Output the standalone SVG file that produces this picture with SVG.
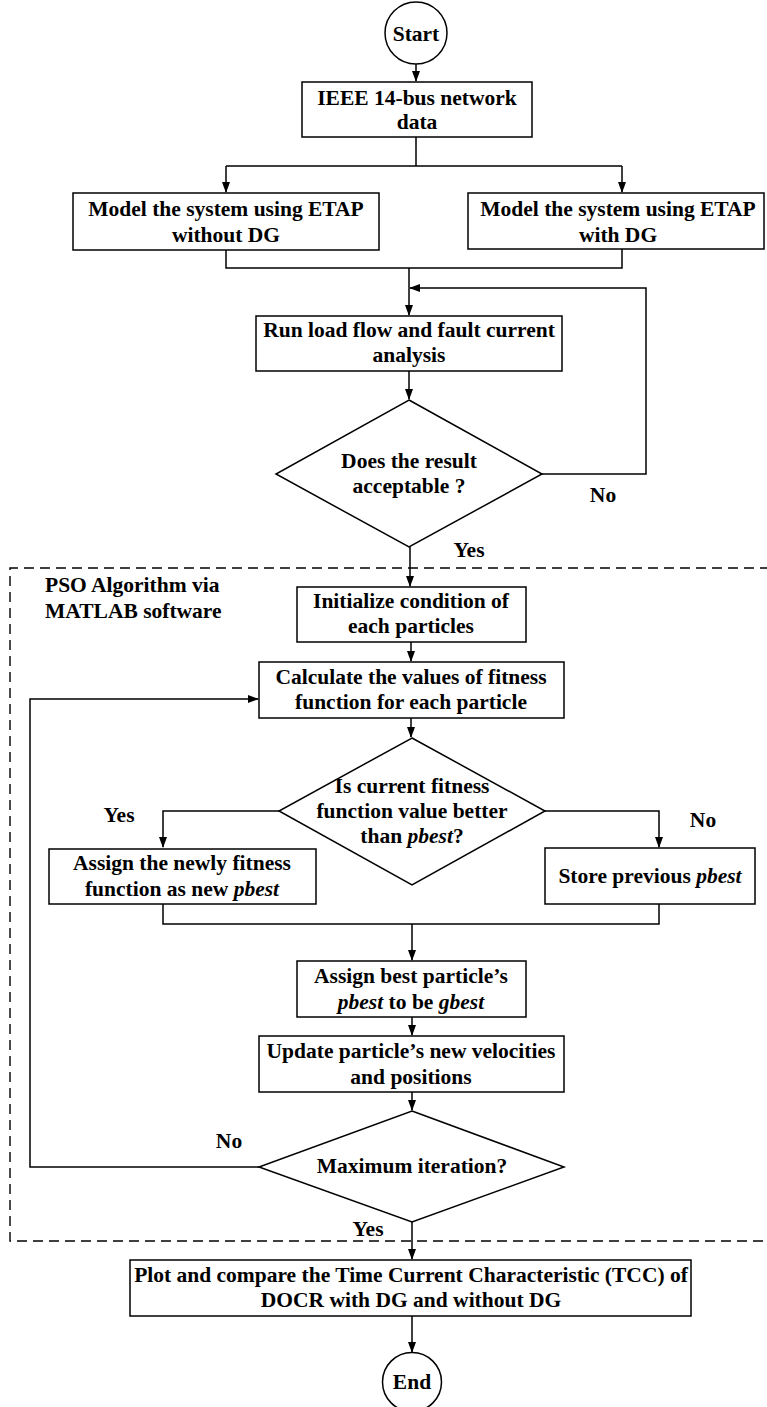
<svg xmlns="http://www.w3.org/2000/svg" width="767" height="1407" viewBox="0 0 767 1407">
<style>
.box{fill:#fff;stroke:#000;stroke-width:1.5}
.ln{fill:none;stroke:#000;stroke-width:1.5}
.ar{fill:none;stroke:#000;stroke-width:1.5;marker-end:url(#ah)}
.t{font-family:"Liberation Serif","Times New Roman",serif;font-weight:bold;font-size:21.5px;fill:#000;text-anchor:middle}
.l{text-anchor:start}
.i{font-style:italic}
.dash{fill:none;stroke:#000;stroke-width:1.4;stroke-dasharray:10 6}
</style>
<defs>
<marker id="ah" markerUnits="userSpaceOnUse" markerWidth="11" markerHeight="8" refX="10" refY="4" orient="auto">
<path d="M0,0 L11,4 L0,8 z" fill="#000"/>
</marker>
</defs>
<rect width="767" height="1407" fill="#fff"/>

<g id="pso-boundary">
<path class="dash" d="M770,568 H10 V1241 H770"/>
<text class="t l" x="45" y="592">PSO Algorithm via</text>
<text class="t l" x="45" y="618">MATLAB software</text>
</g>

<g id="connectors">
<path class="ar" d="M416,64 V81"/>
<path class="ln" d="M416,137 V166 M226,166 H622"/>
<path class="ar" d="M226,166 V192"/>
<path class="ar" d="M622,166 V192"/>
<path class="ln" d="M226,250 V268 H622 V249"/>
<path class="ar" d="M409,268 V315"/>
<path class="ar" d="M542,474 H646 V288 H410"/>
<path class="ar" d="M409,371 V399"/>
<path class="ar" d="M410,547 V586"/>
<path class="ar" d="M411,642 V661"/>
<path class="ar" d="M411,718 V737"/>
<path class="ar" d="M279,811 H163 V847"/>
<path class="ar" d="M545,811 H659 V847"/>
<path class="ln" d="M163,904 V924 H659 V904"/>
<path class="ar" d="M412,924 V960"/>
<path class="ar" d="M412,1017 V1035"/>
<path class="ar" d="M412,1092 V1110"/>
<path class="ar" d="M259,1167 H30 V699 H258"/>
<path class="ar" d="M412,1222 V1259"/>
<path class="ar" d="M412,1316 V1352"/>
<text class="t" x="603" y="502">No</text>
<text class="t" x="469" y="557">Yes</text>
<text class="t" x="119" y="822">Yes</text>
<text class="t" x="703" y="827">No</text>
<text class="t" x="229" y="1148">No</text>
<text class="t" x="368" y="1236">Yes</text>
</g>

<g id="start">
<circle class="box" cx="416" cy="33" r="31"/>
<text class="t" x="416" y="41">Start</text>
</g>

<g id="ieee">
<rect class="box" x="302" y="82" width="230" height="55"/>
<text class="t" x="417" y="105">IEEE 14-bus network</text>
<text class="t" x="417" y="129">data</text>
</g>

<g id="model-without">
<rect class="box" x="73" y="193" width="306" height="57"/>
<text class="t" x="226" y="216">Model the system using ETAP</text>
<text class="t" x="226" y="242">without DG</text>
</g>

<g id="model-with">
<rect class="box" x="468" y="193" width="296" height="56"/>
<text class="t" x="618" y="216">Model the system using ETAP</text>
<text class="t" x="618" y="242">with DG</text>
</g>

<g id="run">
<rect class="box" x="256" y="316" width="306" height="55"/>
<text class="t" x="409" y="337">Run load flow and fault current</text>
<text class="t" x="409" y="362">analysis</text>
</g>

<g id="decision-acceptable">
<path class="box" d="M409,400 L542,474 L409,547 L276,474 z"/>
<text class="t" x="409" y="468">Does the result</text>
<text class="t" x="409" y="493">acceptable ?</text>
</g>

<g id="initialize">
<rect class="box" x="297" y="587" width="229" height="55"/>
<text class="t" x="411" y="608">Initialize condition of</text>
<text class="t" x="411" y="633">each particles</text>
</g>

<g id="calculate">
<rect class="box" x="259" y="662" width="305" height="56"/>
<text class="t" x="411" y="684">Calculate the values of fitness</text>
<text class="t" x="411" y="709">function for each particle</text>
</g>

<g id="decision-pbest">
<path class="box" d="M412,738 L545,811 L412,885 L279,811 z"/>
<text class="t" x="412" y="793">Is current fitness</text>
<text class="t" x="412" y="818">function value better</text>
<text class="t" x="412" y="843">than <tspan class="i">pbest</tspan>?</text>
</g>

<g id="assign-new">
<rect class="box" x="49" y="849" width="267" height="55"/>
<text class="t" x="182" y="870">Assign the newly fitness</text>
<text class="t" x="182" y="896">function as new <tspan class="i">pbest</tspan></text>
</g>

<g id="store">
<rect class="box" x="545" y="848" width="210" height="56"/>
<text class="t" x="650" y="883">Store previous <tspan class="i">pbest</tspan></text>
</g>

<g id="assign-gbest">
<rect class="box" x="297" y="961" width="229" height="56"/>
<text class="t" x="411" y="983">Assign best particle’s</text>
<text class="t" x="411" y="1009"><tspan class="i">pbest</tspan> to be <tspan class="i">gbest</tspan></text>
</g>

<g id="update">
<rect class="box" x="259" y="1036" width="305" height="56"/>
<text class="t" x="411" y="1058">Update particle’s new velocities</text>
<text class="t" x="411" y="1084">and positions</text>
</g>

<g id="decision-max">
<path class="box" d="M412,1111 L564,1167 L412,1222 L259,1167 z"/>
<text class="t" x="412" y="1173">Maximum iteration?</text>
</g>

<g id="plot">
<rect class="box" x="130" y="1260" width="561" height="56"/>
<text class="t" x="411" y="1282">Plot and compare the Time Current Characteristic (TCC) of</text>
<text class="t" x="411" y="1307">DOCR with DG and without DG</text>
</g>

<g id="end">
<circle class="box" cx="412" cy="1382" r="29.5"/>
<text class="t" x="412" y="1389">End</text>
</g>
</svg>
